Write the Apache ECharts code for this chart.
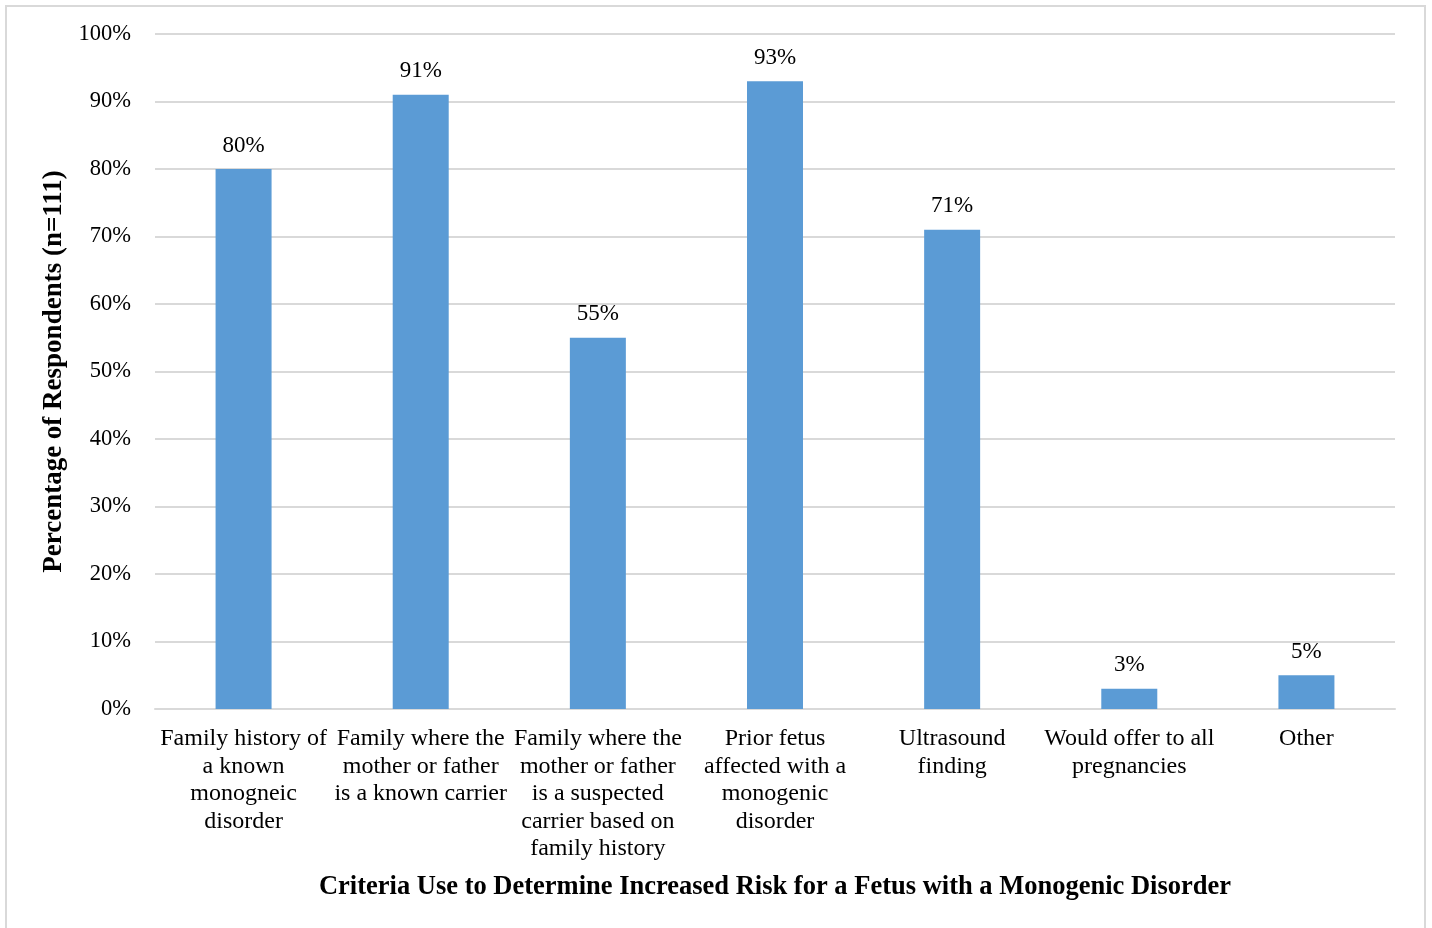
<!DOCTYPE html>
<html>
<head>
<meta charset="utf-8">
<style>
  html, body { margin: 0; padding: 0; background: #fff; }
  #chart { width: 1432px; height: 928px; }
</style>
<script src="https://cdn.jsdelivr.net/npm/echarts@6/dist/echarts.min.js"></script>
</head>
<body>
<div id="chart"></div>
<script>
// Criteria categories (line breaks as laid out under each bar)
const categories = [
  'Family history of\na known\nmonogneic\ndisorder',
  'Family where the\nmother or father\nis a known carrier',
  'Family where the\nmother or father\nis a suspected\ncarrier based on\nfamily history',
  'Prior fetus\naffected with a\nmonogenic\ndisorder',
  'Ultrasound\nfinding',
  'Would offer to all\npregnancies',
  'Other'
];
// Percentage of respondents selecting each criterion
const percentages = [80, 91, 55, 93, 71, 3, 5];
// Value axis ticks (%)
const yTicks = { min: 0, max: 100, interval: 10 };

const serif = '"Liberation Serif", "Times New Roman", serif';
const chart = echarts.init(document.getElementById('chart'));

chart.setOption({
  animation: false,
  textStyle: { fontFamily: serif },
  graphic: [{
    type: 'rect',
    shape: { x: 6, y: 6, width: 1419, height: 940 },
    style: { fill: 'none', stroke: '#d9d9d9', lineWidth: 2 },
    silent: true
  }],
  grid: { left: 155, right: 37, top: 34, bottom: 219 },
  xAxis: {
    type: 'category',
    data: categories,
    name: 'Criteria Use to Determine Increased Risk for a Fetus with a Monogenic Disorder',
    nameLocation: 'middle',
    nameGap: 165,
    nameTextStyle: { fontFamily: serif, fontSize: 26.5, fontWeight: 'bold', color: '#000' },
    axisLine: { show: true, lineStyle: { color: '#d9d9d9', width: 2 } },
    axisTick: { show: false },
    axisLabel: {
      interval: 0,
      margin: 16,
      fontFamily: serif,
      fontSize: 24,
      lineHeight: 27.5,
      color: '#000',
      align: 'center'
    }
  },
  yAxis: {
    type: 'value',
    min: yTicks.min,
    max: yTicks.max,
    interval: yTicks.interval,
    name: 'Percentage of Respondents (n=111)',
    nameLocation: 'middle',
    nameGap: 84,
    nameRotate: 90,
    nameTextStyle: { fontFamily: serif, fontSize: 27, fontWeight: 'bold', color: '#000' },
    axisLine: { show: false },
    axisTick: { show: false },
    axisLabel: {
      formatter: '{value}%',
      margin: 24,
      fontFamily: serif,
      fontSize: 22.5,
      color: '#000'
    },
    splitLine: { lineStyle: { color: '#d9d9d9', width: 2 } }
  },
  series: [{
    type: 'bar',
    data: percentages,
    barWidth: 56,
    itemStyle: { color: '#5B9BD5' },
    label: {
      show: true,
      position: 'top',
      distance: 12,
      formatter: '{c}%',
      fontFamily: serif,
      fontSize: 23,
      color: '#000'
    }
  }]
});
</script>
</body>
</html>
